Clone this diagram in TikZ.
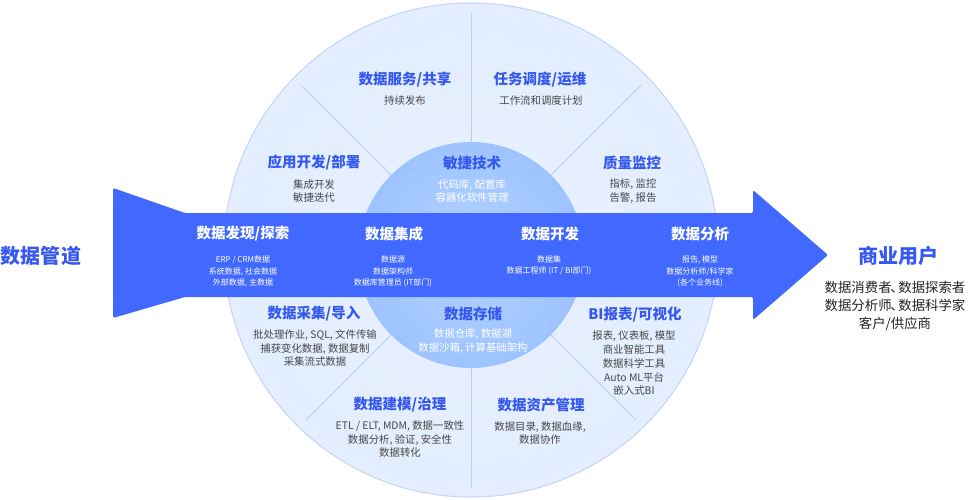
\documentclass[tikz,border=0pt]{standalone}
\usepackage{fontspec}
\setmainfont{Noto Sans CJK SC}
\definecolor{bandblue}{HTML}{4169FF}
\definecolor{ttlblue}{HTML}{3558F0}
\definecolor{subgray}{HTML}{474747}
\definecolor{darktext}{HTML}{222222}
\definecolor{ringfill}{HTML}{E4EEFE}
\definecolor{ringline}{HTML}{C3D5F8}
\definecolor{discin}{HTML}{EAF2FF}
\definecolor{discmid}{HTML}{E0ECFE}
\definecolor{discout}{HTML}{C9DBFA}
\definecolor{divline}{HTML}{B9CDF5}
\definecolor{corein}{HTML}{B3D4FF}
\definecolor{coremid}{HTML}{98BEFF}
\definecolor{coreout}{HTML}{628BF1}
\pgfdeclareradialshading{discshade}{\pgfpoint{0bp}{0bp}}{color(0bp)=(discin); color(30bp)=(discmid); color(50bp)=(discout)}
\pgfdeclareradialshading{coreshade}{\pgfpoint{0bp}{0bp}}{color(0bp)=(corein); color(32bp)=(coremid); color(50bp)=(coreout)}
\newcommand{\dun}{\kern-0.1em、\kern-0.4em}
\tikzset{
  ttl/.style={font=\bfseries\fontsize{14.5}{17}\selectfont, text=ttlblue, inner sep=0pt},
  wttl/.style={ttl, text=white},
  gsub/.style={font=\fontsize{10.4}{13.8}\selectfont, text=subgray, align=center, inner sep=0pt},
  wsub/.style={gsub, text=white},
  bsub/.style={font=\fontsize{8}{11.5}\selectfont, text=white, align=center, inner sep=0pt},
  bigttl/.style={font=\bfseries\fontsize{20}{22}\selectfont, text=ttlblue, inner sep=0pt},
  usersub/.style={font=\fontsize{13.4}{18}\selectfont, text=darktext, align=center, inner sep=0pt},
  divider/.style={draw=divline, line width=1pt},
}
\begin{document}
\begin{tikzpicture}[x=1pt, y=-1pt]
\useasboundingbox (0,0) rectangle (968,500);
% outer ring and disc
\fill[ringfill] (471,250) circle (247.5);
\draw[ringline, line width=1pt] (471,250) circle (247);
\shade[shading=discshade] (471,250) circle (237);
% dividers
\begin{scope}
  \clip (471,250) circle (237);
  \draw[divider] (471,255) -- (471,0);
  \draw[divider] (471,255) -- (471,500);
  \draw[divider] (471,255) -- (291,75);
  \draw[divider] (471,255) -- (651,75);
  \draw[divider] (471,255) -- (291,435);
  \draw[divider] (471,255) -- (651,435);
\end{scope}
% core circle
\shade[shading=coreshade] (471,255) circle (113);
% band arrow
\fill[bandblue, rounded corners=1.5pt] (113,188) -- (185,213) -- (753,213) -- (753,190) -- (828,255) -- (753,320) -- (753,297) -- (185,297) -- (113,318) -- cycle;
% left / right labels
\node[bigttl] (pipe) at (41,256) {数据管道};
\node[bigttl] (users) at (898,256) {商业用户};
\node[usersub] (userss) at (895,306) {数据消费者\dun 数据探索者\\数据分析师\dun 数据科学家\\客户/供应商};
% band texts
\node[wttl] (t1) at (243,234) {数据发现/探索};
\node[bsub] (s1) at (243,271.5) {ERP / CRM数据\\系统数据, 社会数据\\外部数据, 主数据};
\node[wttl] (t2) at (394,234) {数据集成};
\node[bsub] (s2) at (393,271.5) {数据源\\数据架构师\\数据库管理员 (IT部门)};
\node[wttl] (t3) at (550,234) {数据开发};
\node[bsub] (s3) at (549,265.5) {数据集\\数据工程师 (IT / BI部门)};
\node[wttl] (t4) at (700,234) {数据分析};
\node[bsub] (s4) at (700,271.5) {报告, 模型\\数据分析师/科学家\\(各个业务线)};
% upper sectors
\node[ttl] (u1) at (405,80) {数据服务/共享};
\node[gsub] (u1s) at (405,101) {持续发布};
\node[ttl] (u2) at (540,80) {任务调度/运维};
\node[gsub] (u2s) at (541,101) {工作流和调度计划};
\node[ttl] (u3) at (314,163) {应用开发/部署};
\node[gsub] (u3s) at (314,191) {集成开发\\敏捷迭代};
\node[ttl] (u4) at (472,163) {敏捷技术};
\node[wsub] (u4s) at (472,191) {代码库, 配置库\\容器化软件管理};
\node[ttl] (u5) at (632,163) {质量监控};
\node[gsub] (u5s) at (633,191) {指标, 监控\\告警, 报告};
% lower sectors
\node[ttl] (l1) at (314,314) {数据采集/导入};
\node[gsub, font=\fontsize{10.4}{13.5}\selectfont] (l1s) at (315,348.5) {批处理作业, SQL, 文件传输\\捕获变化数据, 数据复制\\采集流式数据};
\node[ttl] (l2) at (473,314) {数据存储};
\node[wsub] (l2s) at (473,341) {数据仓库, 数据湖\\数据沙箱, 计算基础架构};
\node[ttl] (l3) at (635,315) {BI报表/可视化};
\node[gsub, font=\fontsize{10.4}{13.75}\selectfont] (l3s) at (634,363.5) {报表, 仪表板, 模型\\商业智能工具\\数据科学工具\\Auto ML平台\\嵌入式BI};
\node[ttl] (l4) at (400,405) {数据建模/治理};
\node[gsub, font=\fontsize{10.4}{13.5}\selectfont] (l4s) at (400,439.5) {ETL / ELT, MDM, 数据一致性\\数据分析, 验证, 安全性\\数据转化};
\node[ttl] (l5) at (541,405) {数据资产管理};
\node[gsub] (l5s) at (540,433) {数据目录, 数据血缘,\\数据协作};
\end{tikzpicture}
\end{document}
